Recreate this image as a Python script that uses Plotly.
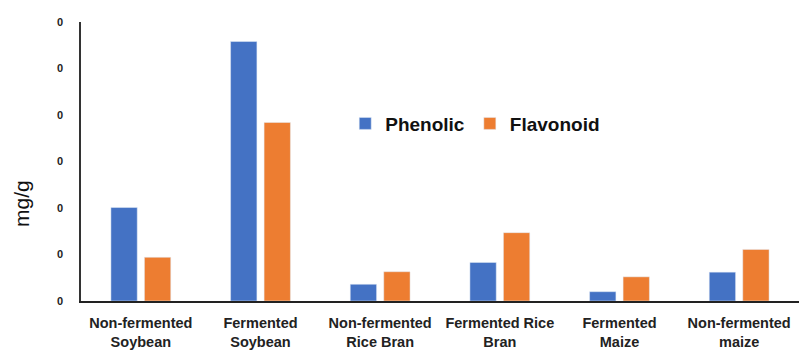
import plotly.graph_objects as go

categories = ["Non-fermented<br>Soybean", "Fermented<br>Soybean", "Non-fermented<br>Rice Bran",
              "Fermented Rice<br>Bran", "Fermented<br>Maize", "Non-fermented<br>maize"]
phenolic = [20.1, 55.8, 3.6, 8.3, 2.0, 6.2]
flavonoid = [9.4, 38.4, 6.3, 14.7, 5.2, 11.1]
tick_vals = [0, 10, 20, 30, 40, 50, 60]
tick_text = ["0", "0", "0", "0", "0", "0", "0"]

FONT = "Liberation Sans, Arial, sans-serif"

fig = go.Figure()
fig.add_trace(go.Bar(name="Phenolic", x=categories, y=phenolic, marker_color="#4472C4",
                     width=0.22, offset=-0.25))
fig.add_trace(go.Bar(name="Flavonoid", x=categories, y=flavonoid, marker_color="#ED7D31",
                     width=0.22, offset=0.03))

fig.update_layout(
    width=799, height=354,
    margin=dict(l=81, r=0, t=22, b=53),
    paper_bgcolor="white", plot_bgcolor="white",
    barmode="group",
    showlegend=True,
    legend=dict(orientation="h", x=0.368, xanchor="left", y=0.636, yanchor="middle",
                font=dict(family=FONT, size=19, color="#111111", weight="bold"),
                bgcolor="rgba(0,0,0,0)", itemwidth=30),
    font=dict(family=FONT),
)
fig.update_xaxes(
    showline=True, linecolor="#222222", linewidth=1.5, showgrid=False, ticks="",
    tickfont=dict(family=FONT, size=14.5, color="#222222", weight="bold"),
    tickangle=0, ticklabelstandoff=8,
)
fig.update_yaxes(
    range=[0, 60], tickvals=tick_vals, ticktext=tick_text,
    showline=True, linecolor="#333333", linewidth=1.5, showgrid=False, zeroline=False, ticks="",
    tickfont=dict(family=FONT, size=11, color="#222222", weight="bold"),
    ticklabelstandoff=14,
)
fig.add_annotation(
    text="mg/g", textangle=-90, xref="paper", yref="paper", x=0, y=0.348,
    xanchor="center", yanchor="middle", xshift=-59, showarrow=False,
    font=dict(family=FONT, size=21, color="#111111"),
)
fig.write_html("out.html", config={"displayModeBar": False},
               post_script="document.body.style.margin='0';")
